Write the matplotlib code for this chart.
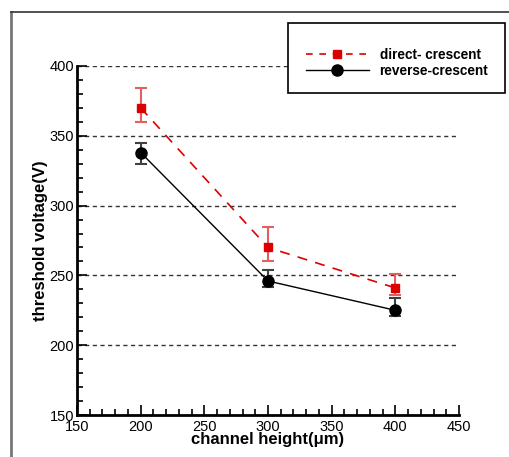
import matplotlib
matplotlib.use("Agg")
import matplotlib.pyplot as plt
from matplotlib.lines import Line2D
from matplotlib.patches import Rectangle
from matplotlib.ticker import MultipleLocator

plt.rcParams['font.family'] = ['Liberation Sans', 'DejaVu Sans']

heights = [200, 300, 400]
direct_vals = [370, 270, 241]
direct_lo = [360, 260, 236]
direct_hi = [384, 285, 251]
reverse_vals = [338, 246, 225]
reverse_lo = [330, 242, 221]
reverse_hi = [345, 254, 234]
series_labels = ["direct- crescent", "reverse-crescent"]

fig = plt.figure(figsize=(5.09, 4.57), dpi=100)
ax = fig.add_axes([0.1513, 0.0919, 0.7505, 0.7637])

# gridlines
for yv in [200, 250, 300, 350, 400]:
    ax.plot([150, 448], [yv, yv], color='#333333', lw=1.0, ls=(0, (3, 2.5)), zorder=1)

d_err = [[v - l for v, l in zip(direct_vals, direct_lo)], [h - v for v, h in zip(direct_vals, direct_hi)]]
r_err = [[v - l for v, l in zip(reverse_vals, reverse_lo)], [h - v for v, h in zip(reverse_vals, reverse_hi)]]

ax.errorbar(heights, direct_vals, yerr=d_err, fmt='none', ecolor='#e06060', elinewidth=1.5, capsize=4.5, capthick=1.5, zorder=3)
ax.errorbar(heights, reverse_vals, yerr=r_err, fmt='none', ecolor='#404040', elinewidth=1.5, capsize=4.5, capthick=1.5, zorder=3)
ax.plot(heights, direct_vals, color='#dd0000', lw=1.2, ls=(0, (6, 5)), marker='s', ms=6, mfc='#dd0000', mec='#dd0000', zorder=4)
ax.plot(heights, reverse_vals, color='black', lw=1.0, ls='-', marker='o', ms=8, mfc='black', mec='black', zorder=4)

ax.set_xlim(150, 450)
ax.set_ylim(150, 400)
ax.xaxis.set_major_locator(MultipleLocator(50))
ax.xaxis.set_minor_locator(MultipleLocator(10))
ax.yaxis.set_major_locator(MultipleLocator(50))
ax.yaxis.set_minor_locator(MultipleLocator(10))
ax.tick_params(which='both', direction='in', labelsize=10.5, width=1.2)
ax.tick_params(which='major', length=7)
ax.tick_params(which='minor', length=4)
ax.tick_params(axis='y', pad=2)
ax.tick_params(axis='x', pad=3.5)
for s in ['top', 'right']:
    ax.spines[s].set_visible(False)
for s in ['left', 'bottom']:
    ax.spines[s].set_linewidth(2)
ax.set_xlabel("channel height(μm)", fontsize=12, fontweight='bold', labelpad=-1)
ax.set_ylabel("threshold voltage(V)", fontsize=12, fontweight='bold', labelpad=1)

# legend box (white filled, above the axes)
fig.add_artist(Rectangle((288/509, 1-93/457), (505-288)/509, (93-23)/457,
                         transform=fig.transFigure, facecolor='white', edgecolor='black', lw=1.2, zorder=5))
handles = [Line2D([], [], color='#dd0000', lw=1.2, ls=(0, (4, 4)), marker='s', ms=6, mfc='#dd0000', mec='#dd0000'),
           Line2D([], [], color='black', lw=1.0, ls='-', marker='o', ms=8, mfc='black', mec='black')]
leg = fig.legend(handles, series_labels, loc='upper left', bbox_to_anchor=(306/509, 1-48/457),
                 frameon=False, prop={'weight': 'bold', 'size': 9.8}, handlelength=4.6,
                 handletextpad=0.8, labelspacing=0.12, borderpad=0, borderaxespad=0)
leg.set_zorder(6)

# outer frame
fig.add_artist(Line2D([11/509, 11/509], [0, 1-12/457], transform=fig.transFigure, color='#777777', lw=2))
fig.add_artist(Line2D([11/509, 1], [1-12/457, 1-12/457], transform=fig.transFigure, color='#333333', lw=1.2))

fig.savefig("out.png", dpi=100)
